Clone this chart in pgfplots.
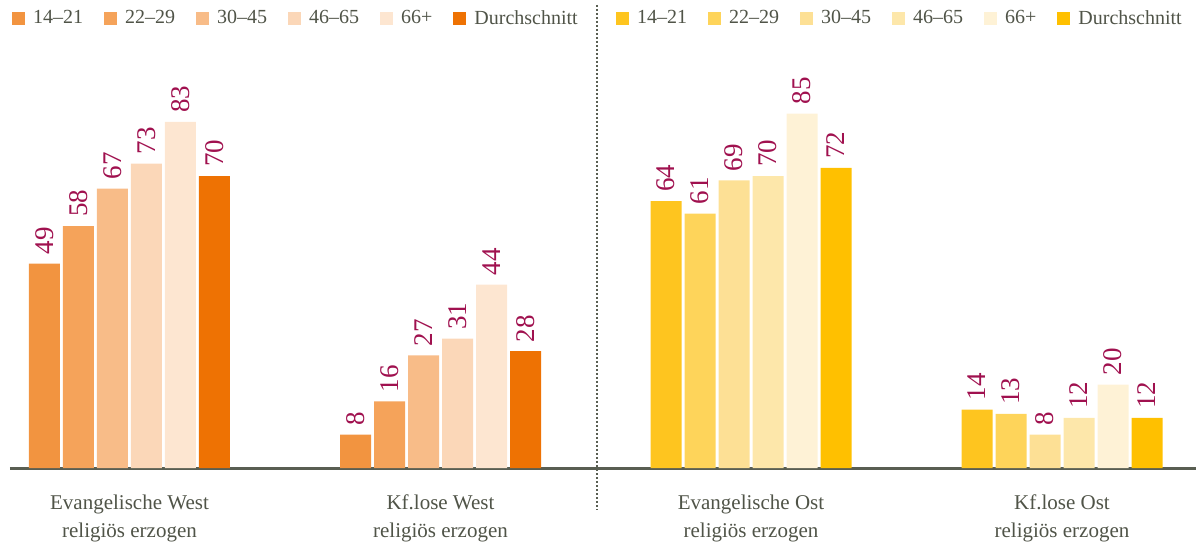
\documentclass[border=0pt]{standalone}
\usepackage{pgfplots}
\pgfplotsset{compat=1.18}
\usepackage{fontspec}
\setmainfont{Liberation Serif}
\definecolor{w1}{HTML}{F29440}
\definecolor{w2}{HTML}{F5A35A}
\definecolor{w3}{HTML}{F8BC88}
\definecolor{w4}{HTML}{FBD7B8}
\definecolor{w5}{HTML}{FDE6D1}
\definecolor{w6}{HTML}{EE7203}
\definecolor{e1}{HTML}{FEC51F}
\definecolor{e2}{HTML}{FED45A}
\definecolor{e3}{HTML}{FDE095}
\definecolor{e4}{HTML}{FDE7AA}
\definecolor{e5}{HTML}{FEF2D6}
\definecolor{e6}{HTML}{FFC000}
\definecolor{lab}{HTML}{A0114F}
\definecolor{txt}{HTML}{505448}
\definecolor{axl}{HTML}{595E52}
\pgfplotsset{
  sqleg/.style={legend image code/.code={\fill[##1] (0pt,-6.5pt) rectangle (13pt,6.5pt);}},
  base/.style={
    scale only axis, height=417pt, ymin=0, ymax=100,
    ybar=3pt, bar width=31pt, clip=false,
    /pgf/number format/assume math mode=true,
    axis x line*=bottom, axis y line=none,
    x axis line style={line width=3pt, color=axl},
    xtick={0,1}, xtick style={draw=none},
    xticklabel style={align=center, text=txt, font=\fontsize{21}{28}\selectfont, yshift=-19pt},
    nodes near coords,
    every node near coord/.append style={rotate=90, anchor=west, text=lab, font=\fontsize{27}{27}\selectfont, inner sep=9pt},
    legend columns=6,
    legend style={draw=none, fill=none, inner sep=0pt, text=txt, font=\fontsize{20}{22}\selectfont,
      /tikz/every even column/.append style={column sep=19pt},
      /tikz/every odd column/.append style={column sep=6pt},
      cells={anchor=west}},
    legend cell align=left,
  }
}
\begin{document}
\begin{tikzpicture}
\useasboundingbox (0,0) rectangle (1196pt,541pt);
\begin{axis}[base, at={(10pt,73pt)}, anchor=south west, width=587pt,
  xmin=-0.3842, xmax=1.5032,
  xticklabels={{Evangelische West\\religiös erzogen},{Kf.lose West\\religiös erzogen}},
  legend style={at={(0.0034,1.0791)}, anchor=west}]
\addplot[fill=w1, draw=none, sqleg] coordinates {(0,49) (1,8)};
\addplot[fill=w2, draw=none, sqleg] coordinates {(0,58) (1,16)};
\addplot[fill=w3, draw=none, sqleg] coordinates {(0,67) (1,27)};
\addplot[fill=w4, draw=none, sqleg] coordinates {(0,73) (1,31)};
\addplot[fill=w5, draw=none, sqleg] coordinates {(0,83) (1,44)};
\addplot[fill=w6, draw=none, sqleg] coordinates {(0,70) (1,28)};
\legend{14–21,22–29,30–45,46–65,66+,Durchschnitt}
\end{axis}
\begin{axis}[base, at={(597pt,73pt)}, anchor=south west, width=599pt,
  xmin=-0.4952, xmax=1.4309,
  xticklabels={{Evangelische Ost\\religiös erzogen},{Kf.lose Ost\\religiös erzogen}},
  legend style={at={(0.0317,1.0791)}, anchor=west}]
\addplot[fill=e1, draw=none, sqleg] coordinates {(0,64) (1,14)};
\addplot[fill=e2, draw=none, sqleg] coordinates {(0,61) (1,13)};
\addplot[fill=e3, draw=none, sqleg] coordinates {(0,69) (1,8)};
\addplot[fill=e4, draw=none, sqleg] coordinates {(0,70) (1,12)};
\addplot[fill=e5, draw=none, sqleg] coordinates {(0,85) (1,20)};
\addplot[fill=e6, draw=none, sqleg] coordinates {(0,72) (1,12)};
\legend{14–21,22–29,30–45,46–65,66+,Durchschnitt}
\end{axis}
\draw[axl, line width=2pt, dash pattern=on 2pt off 2pt] (597pt,536pt) -- (597pt,31pt);
\end{tikzpicture}
\end{document}
